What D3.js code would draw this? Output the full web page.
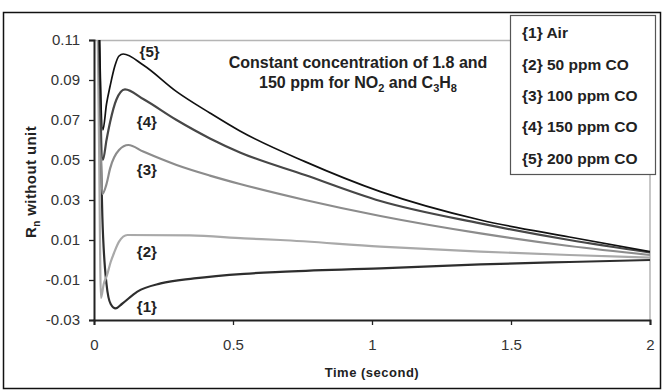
<!DOCTYPE html>
<html>
<head>
<meta charset="utf-8">
<script src="https://cdn.jsdelivr.net/npm/d3@7"></script>
<style>
  body { margin: 0; background: #fff; }
  svg { font-family: "Liberation Sans", Arial, sans-serif; }
</style>
</head>
<body>
<script>
// time in seconds, response Rn
var air = [[0.006, 0.2], [0.02, 0.09], [0.025, 0.05], [0.03, 0.022], [0.045, -0.012], [0.06, -0.022],
  [0.078, -0.0242], [0.1, -0.022], [0.156, -0.0158], [0.24, -0.0117], [0.36, -0.0092], [0.54, -0.0069],
  [0.67, -0.0059], [1.03, -0.0042], [1.39, -0.0022], [1.71, -0.001], [2.0, 0.0]];
var co50 = [[0.006, 0.2], [0.018, 0.06], [0.025, -0.019], [0.035, -0.012], [0.047, -0.0075],
  [0.06, -0.001], [0.072, 0.0035], [0.09, 0.0092], [0.12, 0.0125], [0.345, 0.0123], [0.54, 0.0108],
  [0.67, 0.010], [1.03, 0.0067], [1.39, 0.0042], [1.71, 0.0025], [2.0, 0.0012]];
var co100 = [[0.006, 0.2], [0.02, 0.09], [0.03, 0.033], [0.045, 0.038], [0.058, 0.0458], [0.09, 0.055],
  [0.1235, 0.0575], [0.177, 0.0542], [0.297, 0.0475], [0.417, 0.0422], [0.525, 0.038], [0.759, 0.030],
  [1.03, 0.022], [1.39, 0.0133], [1.71, 0.007], [2.0, 0.0025]];
var co150 = [[0.006, 0.25], [0.02, 0.1], [0.032, 0.05], [0.045, 0.06], [0.058, 0.069], [0.08, 0.08],
  [0.1115, 0.0853], [0.177, 0.0805], [0.297, 0.070], [0.417, 0.0608], [0.525, 0.0538],
  [0.759, 0.0425], [1.03, 0.0295], [1.39, 0.0183], [1.71, 0.010], [2.0, 0.0038]];
var co200 = [[0.006, 0.25], [0.02, 0.11], [0.032, 0.065], [0.045, 0.078], [0.058, 0.087], [0.075, 0.097],
  [0.09, 0.102], [0.105, 0.103], [0.177, 0.0975], [0.297, 0.0842], [0.417, 0.0735],
  [0.525, 0.0645], [0.759, 0.0492], [1.03, 0.0342], [1.39, 0.020], [1.71, 0.0115], [2.0, 0.0042]];

var seriesNames = ["{1} Air", "{2} 50 ppm CO", "{3} 100 ppm CO", "{4} 150 ppm CO", "{5} 200 ppm CO"];
var seriesTags = ["{1}", "{2}", "{3}", "{4}", "{5}"];
// where the {n} tags sit (time, Rn)
var tagPos = [[0.19, -0.0235], [0.19, 0.004], [0.19, 0.045], [0.19, 0.069], [0.2, 0.104]];
var xTicks = [0, 0.5, 1, 1.5, 2];
var yTicks = [-0.03, -0.01, 0.01, 0.03, 0.05, 0.07, 0.09, 0.11];

var series = [air, co50, co100, co150, co200];
var colors = ["#2e2e2e", "#a9a9a9", "#8c8c8c", "#474747", "#111111"];
var widths = [2.2, 2.2, 2.2, 2.2, 1.7];

var W = 669, H = 391;
var margin = {top: 40, right: 19, bottom: 71, left: 94};
var width = W - margin.left - margin.right,
    height = H - margin.top - margin.bottom;

var svg = d3.select("body").append("svg")
    .attr("width", W)
    .attr("height", H);

// outer frame
svg.append("rect")
    .attr("x", 3.5).attr("y", 12.5)
    .attr("width", 657).attr("height", 376)
    .attr("fill", "none")
    .attr("stroke", "#111")
    .attr("stroke-width", 1.5);

var g = svg.append("g")
    .attr("transform", "translate(" + margin.left + "," + margin.top + ")");

var x = d3.scaleLinear().domain([0, 2]).range([0, width]);
var y = d3.scaleLinear().domain([-0.03, 0.11]).range([height, 0]);

// light top / right edges of the plot area
g.append("path")
    .attr("d", "M0,0.5H" + width + "V" + height)
    .attr("fill", "none")
    .attr("stroke", "#b5b5b5")
    .attr("stroke-width", 1.5);

g.append("defs").append("clipPath").attr("id", "clip")
  .append("rect").attr("width", width).attr("height", height);

var line = d3.line()
    .x(function(d) { return x(d[0]); })
    .y(function(d) { return y(d[1]); })
    .curve(d3.curveMonotoneX);

g.append("g").attr("clip-path", "url(#clip)")
  .selectAll("path")
  .data(series)
  .enter().append("path")
    .attr("d", line)
    .attr("fill", "none")
    .attr("stroke", function(d, i) { return colors[i]; })
    .attr("stroke-width", function(d, i) { return widths[i]; })
    .attr("stroke-linejoin", "round");

// axes
var fmt = d3.format(".2f");
var xAxis = g.append("g")
    .attr("transform", "translate(0," + height + ")")
    .call(d3.axisBottom(x).tickValues(xTicks).tickSize(5).tickPadding(14)
      .tickFormat(function(d) { return String(d); }));
var yAxis = g.append("g")
    .call(d3.axisLeft(y).tickValues(yTicks).tickSize(5).tickPadding(9)
      .tickFormat(function(d) { return fmt(d).replace("\u2212", "-"); }));

[xAxis, yAxis].forEach(function(a) {
  a.select(".domain").attr("stroke", "#222").attr("stroke-width", 2);
  a.selectAll(".tick line").attr("stroke", "#222").attr("stroke-width", 1.3);
  a.selectAll("text").attr("fill", "#333").style("font-size", "15px")
    .style("font-family", "'Liberation Sans', Arial, sans-serif");
});

// {n} tags on the curves
g.selectAll(".tag")
  .data(seriesTags)
  .enter().append("text")
    .attr("class", "tag")
    .attr("x", function(d, i) { return x(tagPos[i][0]); })
    .attr("y", function(d, i) { return y(tagPos[i][1]); })
    .attr("dy", "0.35em")
    .attr("text-anchor", "middle")
    .attr("font-size", 15)
    .attr("font-weight", "bold")
    .attr("fill", "#222")
    .text(function(d) { return d; });

// annotation
var note = svg.append("text")
    .attr("text-anchor", "middle")
    .attr("font-size", 16)
    .attr("font-weight", "bold")
    .attr("fill", "#222");
note.append("tspan").attr("x", 358).attr("y", 68).text("Constant concentration of 1.8 and");
var l2 = note.append("tspan").attr("x", 358).attr("y", 88);
l2.append("tspan").text("150 ppm for NO");
l2.append("tspan").attr("dy", 4).attr("font-size", 11).text("2");
l2.append("tspan").attr("dy", -4).text(" and C");
l2.append("tspan").attr("dy", 4).attr("font-size", 11).text("3");
l2.append("tspan").attr("dy", -4).text("H");
l2.append("tspan").attr("dy", 4).attr("font-size", 11).text("8");

// legend
var legend = svg.append("g");
legend.append("rect")
    .attr("x", 510.5).attr("y", 15.5)
    .attr("width", 145).attr("height", 159)
    .attr("fill", "#fff")
    .attr("stroke", "#555")
    .attr("stroke-width", 1.2);
legend.selectAll("text")
  .data(seriesNames)
  .enter().append("text")
    .attr("x", 522)
    .attr("y", function(d, i) { return 33 + i * 31.3; })
    .attr("dy", "0.35em")
    .attr("font-size", 15.5)
    .attr("font-weight", "bold")
    .attr("fill", "#222")
    .text(function(d) { return d; });

// axis titles
svg.append("text")
    .attr("x", margin.left + x(1))
    .attr("y", 377)
    .attr("text-anchor", "middle")
    .attr("font-size", 13)
    .attr("font-weight", "bold")
    .attr("letter-spacing", 0.5)
    .attr("fill", "#222")
    .text("Time (second)");

var yt = svg.append("text")
    .attr("transform", "translate(36,182) rotate(-90)")
    .attr("text-anchor", "middle")
    .attr("font-size", 15)
    .attr("font-weight", "bold")
    .attr("letter-spacing", 0.4)
    .attr("fill", "#222");
yt.append("tspan").text("R");
yt.append("tspan").attr("dy", 4).attr("font-size", 10).text("n");
yt.append("tspan").attr("dy", -4).text(" without unit");
</script>
</body>
</html>
